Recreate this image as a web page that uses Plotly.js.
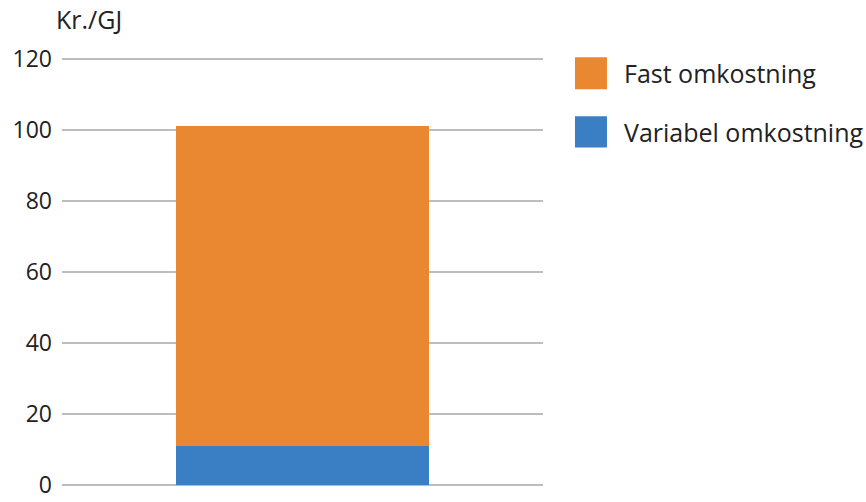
<!DOCTYPE html>
<html>
<head>
<meta charset="utf-8">
<script src="https://cdn.plot.ly/plotly-3.0.1.min.js"></script>
<style>
  html, body { margin: 0; padding: 0; background: #fff; }
  #chart { width: 866px; height: 502px; }
</style>
</head>
<body>
<div id="chart"></div>
<script>
// data
const categories  = [''];
const seriesNames = ['Variabel omkostning', 'Fast omkostning'];
const variabel    = [11];
const fast        = [90];
const colors      = ['#3a7fc3', '#ea8832'];
const yTicks      = [0, 20, 40, 60, 80, 100, 120];

const FONT = '"Open Sans", sans-serif';
const TEXT = '#222222';

const traces = [
    { type: 'bar', x: categories, y: variabel, name: seriesNames[0],
      marker: { color: colors[0] }, width: 0.526, hoverinfo: 'y' },
    { type: 'bar', x: categories, y: fast, name: seriesNames[1],
      marker: { color: colors[1] }, width: 0.526, hoverinfo: 'y' }
];

// custom legend: big squares + labels right of the plot, top item = Fast
// (paper coords, plot area is ~481 x 425 px)
const legendItems = [
    { name: seriesNames[1], color: colors[1], y0: 0.927, y1: 1.002, ty: 0.965 },
    { name: seriesNames[0], color: colors[0], y0: 0.791, y1: 0.864, ty: 0.827 }
];
const shapes = legendItems.map(it => ({
    type: 'rect', xref: 'paper', yref: 'paper',
    x0: 1.0665, x1: 1.133, y0: it.y0, y1: it.y1,
    fillcolor: it.color, line: { width: 0 }
}));
const annotations = legendItems.map(it => ({
    xref: 'paper', yref: 'paper', x: 1.1705, y: it.ty, xshift: -3,
    xanchor: 'left', yanchor: 'middle', showarrow: false,
    text: it.name, font: { family: FONT, size: 25, color: TEXT }
}));
annotations.push({
    xref: 'paper', yref: 'paper', x: 0, y: 1, xshift: -8, yshift: 39,
    xanchor: 'left', yanchor: 'middle', showarrow: false,
    text: 'Kr./GJ', font: { family: FONT, size: 25, color: TEXT }
});

const layout = {
    width: 866, height: 502,
    margin: { l: 62, r: 323, t: 58, b: 16 },
    paper_bgcolor: '#fff', plot_bgcolor: '#fff',
    barmode: 'stack',
    showlegend: false,
    font: { family: FONT, size: 23, color: TEXT },
    xaxis: { showticklabels: false, showgrid: false, zeroline: false,
             showline: false, fixedrange: true },
    yaxis: { range: [-0.3, 120.3], tickvals: yTicks, ticks: '',
             showgrid: true, gridcolor: '#bdbdbd', gridwidth: 2,
             zeroline: true, zerolinecolor: '#bdbdbd', zerolinewidth: 2,
             showline: false, ticklabelstandoff: 9, ticklabeloverflow: 'allow',
             tickfont: { family: FONT, size: 23, color: TEXT }, fixedrange: true },
    shapes, annotations
};

Plotly.newPlot('chart', traces, layout, { displayModeBar: false, staticPlot: true });
</script>
</body>
</html>
